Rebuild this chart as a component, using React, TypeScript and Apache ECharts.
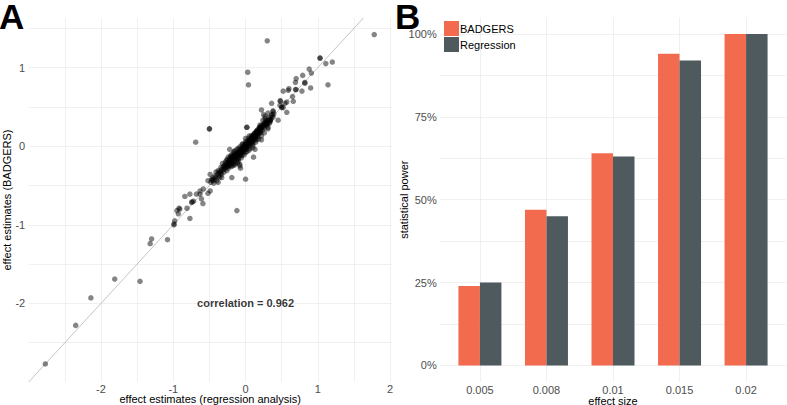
import React, { useEffect, useRef } from "react";
import * as echarts from "echarts";

// ---------- Panel A data: effect estimates (x: regression, y: BADGERS) ----------
const scatterOutliers: number[][] = [
  [-2.77, -2.77], [-2.35, -2.28], [-2.14, -1.93], [-1.81, -1.69], [-1.46, -1.72],
  [-1.32, -1.24], [-1.30, -1.18], [-1.08, -1.19], [-0.99, -1.0], [-0.99, -0.99],
  [-0.98, -0.95], [-0.93, -0.86], [-0.91, -0.8], [-0.92, -0.79], [-0.84, -0.64],
  [-0.81, -0.79], [-0.77, -0.92], [-0.77, -0.61], [-0.745, -0.716], [-0.74, -0.71],
  [-0.68, -0.61], [-0.61, -0.67], [-0.59, -0.73], [-0.63, -0.57], [-0.52, -0.6],
  [-0.69, 0.05], [-0.5, 0.22], [-0.5, 0.22], [-0.12, -0.82], [0.0, -0.42],
  [0.3, 1.34], [0.03, 0.94], [0.04, 0.78], [1.78, 1.42], [1.14, 0.78],
  [1.03, 1.12], [1.03, 1.12], [1.11, 1.05], [1.2, 1.07], [0.88, 0.98],
  [0.91, 0.93], [0.79, 0.9], [0.7, 0.86], [0.69, 0.81], [0.82, 0.81],
  [0.82, 0.8], [0.6, 0.73], [0.69, 0.72], [0.7, 0.72], [0.52, 0.7],
  [0.78, 0.7], [0.9, 0.74], [0.59, 0.71], [0.65, 0.63], [0.66, 0.57],
  [0.48, 0.58], [0.48, 0.57], [0.545, 0.545], [0.5, 0.49], [0.5, 0.5],
  [0.57, 0.43], [0.476, 0.52], [0.36, 0.545], [0.57, 0.56], [0.52, 0.49],
  [0.38, 0.44], [0.38, 0.45], [0.22, 0.46], [0.31, 0.42], [0.45, 0.33],
  [0.34, 0.325], [0.34, 0.33], [0.29, 0.28], [0.2, 0.24], [0.015, 0.24],
  [0.13, -0.04], [-0.22, -0.04], [-0.585, -0.545], [-0.63, -0.61], [-0.72, -0.7],
  [-0.49, -0.57], [-0.52, -0.44], [-0.45, -0.44], [-0.38, -0.46], [-0.33, -0.4],
  [-0.19, -0.4], [-0.95, -0.82], [-0.08, -0.23], [0.11, -0.14], [0.22, 0.08],
  [0.31, 0.22],
];

const scatterCluster: number[][] = [
  [-0.48, -0.46], [-0.45, -0.4], [-0.49, -0.36], [-0.4, -0.44], [-0.35, -0.35],
  [-0.31, -0.27], [-0.38, -0.31], [-0.26, -0.31], [-0.17, -0.23], [-0.08, -0.25],
  [-0.11, -0.17], [-0.22, -0.16], [-0.44, -0.47], [-0.42, -0.38], [-0.36, -0.4],
  [-0.33, -0.3], [-0.3, -0.33], [-0.29, -0.24], [-0.27, -0.27], [-0.25, -0.22],
  [-0.24, -0.28], [-0.23, -0.19], [-0.21, -0.24], [-0.2, -0.17], [-0.19, -0.21],
  [-0.18, -0.13], [-0.17, -0.18], [-0.16, -0.12], [-0.15, -0.2], [-0.14, -0.15],
  [-0.13, -0.1], [-0.12, -0.13], [-0.11, -0.08], [-0.1, -0.14], [-0.09, -0.06],
  [-0.08, -0.11], [-0.07, -0.04], [-0.06, -0.09], [-0.05, -0.02], [-0.04, -0.07],
  [-0.03, 0.0], [-0.02, -0.05], [-0.01, 0.02], [0.0, -0.03], [0.01, 0.04],
  [0.02, -0.01], [0.03, 0.06], [0.04, 0.01], [0.05, 0.08], [0.06, 0.03],
  [0.07, 0.1], [0.08, 0.05], [0.09, 0.12], [0.1, 0.07], [0.11, 0.14],
  [0.12, 0.09], [0.13, 0.17], [0.14, 0.11], [0.15, 0.19], [0.16, 0.13],
  [0.17, 0.21], [0.18, 0.16], [0.19, 0.24], [0.2, 0.18], [0.22, 0.26],
  [0.23, 0.2], [0.25, 0.29], [0.26, 0.23], [0.28, 0.32], [0.3, 0.27],
  [0.32, 0.36], [0.34, 0.31], [0.36, 0.4], [0.35, 0.36], [-0.28, -0.2],
  [-0.26, -0.17], [-0.24, -0.14], [-0.22, -0.2], [-0.2, -0.11], [-0.18, -0.25],
  [-0.16, -0.07], [-0.14, -0.22], [-0.12, -0.04], [-0.1, -0.19], [-0.08, -0.01],
  [-0.06, -0.15], [-0.04, 0.03], [-0.02, -0.11], [0.0, 0.06], [0.02, -0.07],
  [0.04, 0.1], [0.06, -0.03], [0.08, 0.13], [0.1, 0.01], [0.12, 0.16],
  [0.14, 0.05], [0.16, 0.2], [0.18, 0.09], [0.2, 0.23], [0.22, 0.13],
  [0.24, 0.27], [0.26, 0.17], [0.29, 0.3], [0.31, 0.24], [-0.19, -0.15],
  [-0.15, -0.1], [-0.13, -0.16], [-0.09, -0.09], [-0.07, -0.12], [-0.05, -0.05],
  [-0.03, -0.08], [-0.01, -0.01], [0.01, -0.04], [0.03, 0.02], [0.05, 0.0],
  [0.07, 0.06], [0.09, 0.04], [0.11, 0.1], [0.13, 0.08], [0.15, 0.14],
  [0.17, 0.12], [0.19, 0.18], [0.21, 0.17], [-0.23, -0.25], [-0.21, -0.14],
  [-0.17, -0.09], [-0.11, -0.21], [0.0, 0.1], [0.05, 0.13], [0.1, -0.02],
  [-0.32, -0.22], [-0.34, -0.27], [-0.37, -0.34], [-0.41, -0.33], [-0.46, -0.42],
  [0.27, 0.35], [0.33, 0.29], [0.38, 0.37], [0.24, 0.33], [0.25, 0.4],
  [0.27, 0.38], [0.02, 0.24], [0.2, 0.24], [-0.07, -0.28],
  [-0.47, -0.43], [-0.43, -0.42], [-0.41, -0.4], [-0.39, -0.36], [-0.37, -0.38],
  [-0.36, -0.32], [-0.34, -0.33], [-0.33, -0.36], [-0.31, -0.3], [-0.3, -0.26],
  [-0.29, -0.29], [-0.28, -0.25], [-0.27, -0.22], [-0.26, -0.26], [-0.25, -0.25],
  [-0.24, -0.21], [-0.23, -0.22], [-0.22, -0.23], [-0.21, -0.18], [-0.2, -0.2],
  [-0.19, -0.17], [-0.18, -0.19], [-0.17, -0.15], [-0.16, -0.16], [-0.15, -0.13],
  [-0.14, -0.12], [-0.13, -0.13], [-0.12, -0.1], [-0.11, -0.11], [-0.1, -0.09],
  [-0.09, -0.1], [-0.08, -0.07], [-0.07, -0.08], [-0.06, -0.05], [-0.05, -0.07],
  [-0.04, -0.03], [-0.03, -0.04], [-0.02, -0.01], [-0.01, -0.03], [0.0, 0.01],
  [0.01, 0.0], [0.02, 0.03], [0.03, 0.03], [0.04, 0.05], [0.05, 0.04],
  [0.06, 0.07], [0.07, 0.07], [0.08, 0.09], [0.09, 0.08], [0.1, 0.11],
  [0.11, 0.11], [0.12, 0.13], [0.13, 0.12], [0.14, 0.15], [0.15, 0.16],
  [0.16, 0.17], [0.17, 0.17], [0.18, 0.2], [0.19, 0.2], [0.2, 0.21],
  [0.21, 0.22], [0.22, 0.23], [0.23, 0.25], [0.24, 0.24], [0.25, 0.26],
  [0.26, 0.28], [0.27, 0.27], [0.28, 0.29], [0.29, 0.31], [0.3, 0.33],
  [0.31, 0.3], [0.33, 0.33], [0.35, 0.34], [0.37, 0.39], [0.39, 0.41],
  [-0.2, -0.26], [-0.15, -0.24], [-0.1, -0.16], [-0.05, -0.12], [0.0, -0.08],
  [0.05, -0.05], [0.1, 0.04], [0.15, 0.08], [-0.25, -0.18], [-0.2, -0.13],
  [-0.15, -0.06], [-0.1, -0.03], [-0.05, 0.02], [0.0, 0.03], [0.05, 0.06],
  [0.1, 0.14], [0.15, 0.18], [0.2, 0.27],
];

const correlationText = "correlation = 0.962";
const correlationAt = [0, -2];

// Panel A axis limits (ggplot expanded ranges)
const xLimA = [-3, 2.02];
const yLimA = [-3, 1.63];

// ---------- Panel B data: statistical power ----------
const effectSizes = ["0.005", "0.008", "0.01", "0.015", "0.02"];
const badgersPower = [24, 47, 64, 94, 100];
const regressionPower = [25, 45, 63, 92, 100];
const powerTicks = [0, 25, 50, 75, 100];
const powerGrid = [0, 12.5, 25, 37.5, 50, 62.5, 75, 87.5, 100];

const FONT = "Liberation Sans, Arial, Helvetica, sans-serif";
const GRID = "#ececec";
const TICK = "#4d4d4d";
const ORANGE = "#f26b4f";
const SLATE = "#4e5a5e";

export default function App() {
  const ref = useRef<HTMLDivElement>(null);

  useEffect(() => {
    if (!ref.current) return;
    const chart = echarts.init(ref.current, null, { renderer: "svg" });

    const catPos = effectSizes.map((_, i) => i + 1);
    const lineLo = Math.max(xLimA[0], yLimA[0]);
    const lineHi = Math.min(xLimA[1], yLimA[1]);

    const panelLetter = (text: string, left: number) => ({
      text,
      left,
      top: 5,
      padding: 0,
      textStyle: {
        fontSize: 35,
        lineHeight: 22,
        fontWeight: "bold",
        color: "#000",
        fontFamily: FONT,
      },
    });

    const nameStyle = { fontSize: 11, lineHeight: 9, color: "#000", fontFamily: FONT };
    const nameStyleY = { fontSize: 11, color: "#000", fontFamily: FONT };

    const option: any = {
      animation: false,
      backgroundColor: "#ffffff",
      textStyle: { fontFamily: FONT },
      title: [panelLetter("A", -1), panelLetter("B", 395)],
      legend: {
        data: ["BADGERS", "Regression"],
        orient: "vertical",
        left: 444,
        top: 21,
        padding: 0,
        itemWidth: 15,
        itemHeight: 15,
        itemGap: 1,
        icon: "rect",
        textStyle: { fontSize: 11, color: "#000", fontFamily: FONT, padding: [0, 0, 0, -4] },
      },
      grid: [
        { left: 28.7, top: 18, width: 362.9, height: 364, outerBoundsMode: "none", containLabel: false },
        { left: 440, top: 17.4, width: 346, height: 364.6, outerBoundsMode: "none", containLabel: false },
      ],
      xAxis: [
        {
          gridIndex: 0,
          type: "value",
          min: xLimA[0],
          max: xLimA[1],
          interval: 0.5,
          name: "effect estimates (regression analysis)",
          nameLocation: "middle",
          nameGap: 12.5,
          nameMoveOverlap: false,
          nameTextStyle: nameStyle,
          axisLine: { show: false },
          axisTick: { show: false },
          axisLabel: {
            margin: 2,
            fontSize: 11,
            lineHeight: 9,
            color: TICK,
            fontFamily: FONT,
            showMaxLabel: false,
            formatter: (v: number) => (Number.isInteger(v) && v > xLimA[0] ? String(v) : ""),
          },
          splitLine: { show: true, showMinLine: false, showMaxLine: false, lineStyle: { color: GRID, width: 0.8 } },
        },
        {
          gridIndex: 1,
          type: "value",
          min: 0.4,
          max: effectSizes.length + 0.6,
          name: "effect size",
          nameLocation: "middle",
          nameGap: 14,
          nameMoveOverlap: false,
          nameTextStyle: nameStyle,
          axisLine: { show: false },
          axisTick: { show: false, customValues: catPos },
          axisLabel: {
            customValues: catPos,
            margin: 3,
            fontSize: 11,
            lineHeight: 9,
            color: TICK,
            fontFamily: FONT,
            formatter: (v: number) => effectSizes[Math.round(v) - 1] ?? "",
          },
          splitLine: { show: true, lineStyle: { color: GRID, width: 0.8 } },
        },
      ],
      yAxis: [
        {
          gridIndex: 0,
          type: "value",
          min: yLimA[0],
          max: yLimA[1],
          interval: 0.5,
          name: "effect estimates (BADGERS)",
          nameLocation: "middle",
          nameGap: 16.5,
          nameMoveOverlap: false,
          nameTextStyle: nameStyleY,
          axisLine: { show: false },
          axisTick: { show: false },
          axisLabel: {
            margin: 3.5,
            fontSize: 11,
            color: TICK,
            fontFamily: FONT,
            showMaxLabel: false,
            formatter: (v: number) => (Number.isInteger(v) && v > yLimA[0] ? String(v) : ""),
          },
          splitLine: { show: true, showMinLine: false, showMaxLine: false, lineStyle: { color: GRID, width: 0.8 } },
        },
        {
          gridIndex: 1,
          type: "value",
          min: -5,
          max: 105,
          name: "statistical power",
          nameLocation: "middle",
          nameGap: 31,
          nameMoveOverlap: false,
          nameTextStyle: nameStyleY,
          axisLine: { show: false },
          axisTick: { show: false, customValues: powerGrid },
          axisLabel: {
            customValues: powerTicks,
            margin: 3.3,
            fontSize: 11,
            lineHeight: 9,
            color: TICK,
            fontFamily: FONT,
            formatter: (v: number) => `${v}%`,
          },
          splitLine: { show: true, lineStyle: { color: GRID, width: 0.8 } },
        },
      ],
      series: [
        {
          type: "line",
          xAxisIndex: 0,
          yAxisIndex: 0,
          data: [
            [lineLo, lineLo],
            [lineHi, lineHi],
          ],
          symbol: "none",
          silent: true,
          lineStyle: { color: "#b5b5b5", width: 0.8 },
          z: 1,
        },
        {
          type: "scatter",
          xAxisIndex: 0,
          yAxisIndex: 0,
          data: [...scatterOutliers, ...scatterCluster],
          symbolSize: 5.5,
          itemStyle: { color: "rgba(0,0,0,0.6)" },
          z: 2,
        },
        {
          type: "scatter",
          xAxisIndex: 0,
          yAxisIndex: 0,
          data: [correlationAt],
          symbolSize: 0,
          silent: true,
          label: {
            show: true,
            position: "inside",
            formatter: correlationText,
            fontSize: 11,
            fontWeight: "bold",
            color: "#000",
            fontFamily: FONT,
          },
          z: 3,
        },
        {
          name: "BADGERS",
          type: "bar",
          xAxisIndex: 1,
          yAxisIndex: 1,
          data: badgersPower.map((v, i) => [catPos[i], v]),
          barWidth: 21.5,
          barGap: "0%",
          itemStyle: { color: ORANGE },
        },
        {
          name: "Regression",
          type: "bar",
          xAxisIndex: 1,
          yAxisIndex: 1,
          data: regressionPower.map((v, i) => [catPos[i], v]),
          barWidth: 21.5,
          barGap: "0%",
          itemStyle: { color: SLATE },
        },
      ],
    };

    chart.setOption(option);
    return () => chart.dispose();
  }, []);

  return (
    <div
      ref={ref}
      style={{ position: "fixed", left: 0, top: 0, width: 787, height: 405, background: "#fff" }}
    />
  );
}
